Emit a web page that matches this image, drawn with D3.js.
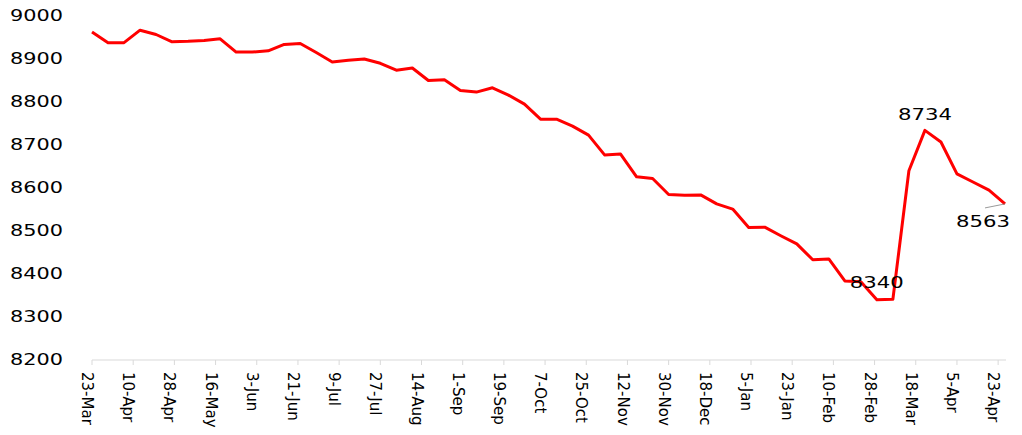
<!DOCTYPE html>
<html>
<head>
<meta charset="utf-8">
<script src="https://cdn.jsdelivr.net/npm/d3@7"></script>
<style>
    body { margin: 0; background: #fff; }
    text { font-family: "DejaVu Sans", sans-serif; fill: #000; }
</style>
</head>
<body>
<svg id="chart" width="1022" height="435"></svg>
<script>
// weekly observations
const dates = [
    "2018-03-23", "2018-03-30", "2018-04-06", "2018-04-13", "2018-04-20", "2018-04-27",
    "2018-05-04", "2018-05-11", "2018-05-18", "2018-05-25", "2018-06-01", "2018-06-08",
    "2018-06-15", "2018-06-22", "2018-06-29", "2018-07-06", "2018-07-13", "2018-07-20",
    "2018-07-27", "2018-08-03", "2018-08-10", "2018-08-17", "2018-08-24", "2018-08-31",
    "2018-09-07", "2018-09-14", "2018-09-21", "2018-09-28", "2018-10-05", "2018-10-12",
    "2018-10-19", "2018-10-26", "2018-11-02", "2018-11-09", "2018-11-16", "2018-11-23",
    "2018-11-30", "2018-12-07", "2018-12-14", "2018-12-21", "2018-12-28", "2019-01-04",
    "2019-01-11", "2019-01-18", "2019-01-25", "2019-02-01", "2019-02-08", "2019-02-15",
    "2019-02-22", "2019-03-01", "2019-03-08", "2019-03-15", "2019-03-22", "2019-03-29",
    "2019-04-05", "2019-04-12", "2019-04-19", "2019-04-26"
];

const values = [
    8963, 8938, 8938, 8967, 8957, 8940, 8941, 8943, 8947, 8916,
    8916, 8919, 8934, 8936, 8915, 8893, 8897, 8900, 8890, 8874,
    8879, 8850, 8852, 8827, 8823, 8833, 8816, 8795, 8760, 8760,
    8744, 8723, 8677, 8679, 8626, 8622, 8585, 8583, 8584, 8563,
    8551, 8508, 8509, 8489, 8470, 8433, 8435, 8384, 8382, 8340,
    8341, 8640, 8734, 8707, 8633, 8614, 8595, 8563
];

// x axis labels every 18 days
const tickDates = [
    "2018-03-23", "2018-04-10", "2018-04-28", "2018-05-16", "2018-06-03", "2018-06-21",
    "2018-07-09", "2018-07-27", "2018-08-14", "2018-09-01", "2018-09-19", "2018-10-07",
    "2018-10-25", "2018-11-12", "2018-11-30", "2018-12-18", "2019-01-05", "2019-01-23",
    "2019-02-10", "2019-02-28", "2019-03-18", "2019-04-05", "2019-04-23"
];

const yTicks = [8200, 8300, 8400, 8500, 8600, 8700, 8800, 8900, 9000];

// labelled points: index into values
const labelled = [49, 52, 57];

const parse = d3.timeParse("%Y-%m-%d");
const data = dates.map((d, i) => ({ date: parse(d), value: values[i] }));

const svg = d3.select("#chart");

const x = d3.scaleTime()
    .domain([data[0].date, data[data.length - 1].date])
    .range([92, 1005]);

const y = d3.scaleLinear()
    .domain([8200, 9000])
    .range([360, 16]);

// x axis
const xAxis = svg.append("g");
xAxis.append("line")
    .attr("x1", x.range()[0])
    .attr("x2", x.range()[1] + 1)
    .attr("y1", y(8200))
    .attr("y2", y(8200))
    .attr("stroke", "#d9d9d9")
    .attr("stroke-width", 1);

const ticks = xAxis.selectAll("g.tick")
    .data(tickDates.map(parse))
    .enter().append("g")
    .attr("class", "tick");

ticks.append("line")
    .attr("x1", d => x(d))
    .attr("x2", d => x(d))
    .attr("y1", y(8200))
    .attr("y2", y(8200) + 5)
    .attr("stroke", "#d9d9d9");

const fmt = d3.timeFormat("%-d-%b");
ticks.append("text")
    .attr("transform", d => "translate(" + (x(d) - 4.5) + "," + (y(8200) + 12) + ") rotate(90)")
    .attr("dy", "0.36em")
    .attr("text-anchor", "start")
    .style("font-size", "15px")
    .text(d => fmt(d));

// y labels (no axis line)
svg.append("g").selectAll("text")
    .data(yTicks)
    .enter().append("text")
    .attr("x", 63)
    .attr("y", d => y(d))
    .attr("dy", "0.36em")
    .attr("text-anchor", "end")
    .attr("textLength", 53)
    .attr("lengthAdjust", "spacingAndGlyphs")
    .style("font-size", "15px")
    .text(d => d);

// series line
const line = d3.line()
    .x(d => x(d.date))
    .y(d => y(d.value));

svg.append("path")
    .datum(data)
    .attr("fill", "none")
    .attr("stroke", "#ff0000")
    .attr("stroke-width", 3)
    .attr("stroke-linejoin", "round")
    .attr("d", line);

// data labels
const offsets = {
    49: { dx: 0, dy: -17 },
    52: { dx: 0, dy: -16 },
    57: { dx: -22, dy: 18 }
};

const last = data[57];
svg.append("line")
    .attr("x1", x(last.date) - 20)
    .attr("y1", y(last.value) + 4)
    .attr("x2", x(last.date))
    .attr("y2", y(last.value))
    .attr("stroke", "#808080")
    .attr("stroke-width", 0.8);

svg.append("g").selectAll("text")
    .data(labelled)
    .enter().append("text")
    .attr("x", i => x(data[i].date) + offsets[i].dx)
    .attr("y", i => y(data[i].value) + offsets[i].dy)
    .attr("dy", "0.36em")
    .attr("text-anchor", "middle")
    .attr("textLength", 54)
    .attr("lengthAdjust", "spacingAndGlyphs")
    .style("font-size", "15px")
    .text(i => data[i].value);
</script>
</body>
</html>
